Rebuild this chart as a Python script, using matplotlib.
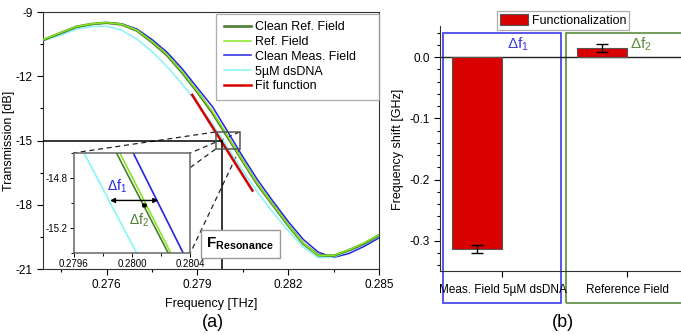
import numpy as np
import matplotlib.pyplot as plt
from matplotlib.patches import Rectangle, Patch
from matplotlib.ticker import MultipleLocator

plt.rcParams['font.family'] = ['Liberation Sans', 'DejaVu Sans']
plt.rcParams['mathtext.fontset'] = 'custom'
plt.rcParams['mathtext.rm'] = 'Liberation Sans'
plt.rcParams['mathtext.it'] = 'Liberation Sans:italic'
plt.rcParams['mathtext.bf'] = 'Liberation Sans:bold'
plt.rcParams['axes.unicode_minus'] = False

# transmission spectra [THz] / [dB]
freq = [0.2739, 0.2745, 0.2750, 0.2755, 0.2760, 0.2765, 0.2770, 0.2775,
        0.2780, 0.2785, 0.2790, 0.2795, 0.2800, 0.2805, 0.2810, 0.2815,
        0.2820, 0.2825, 0.2830, 0.2835, 0.2840, 0.2845, 0.2850]
clean_ref = [-10.31, -9.97, -9.69, -9.56, -9.50, -9.58, -9.86, -10.40,
             -11.02, -11.83, -12.73, -13.71, -14.84, -15.97, -17.08, -18.02,
             -18.96, -19.82, -20.36, -20.38, -20.13, -19.82, -19.42]
ref_field = [-10.29, -9.95, -9.68, -9.55, -9.49, -9.57, -9.84, -10.37,
             -10.98, -11.79, -12.69, -13.65, -14.79, -15.94, -17.04, -17.99,
             -18.93, -19.80, -20.36, -20.37, -20.11, -19.79, -19.40]
clean_meas = [-10.33, -10.00, -9.71, -9.57, -9.50, -9.55, -9.79, -10.28,
              -10.88, -11.65, -12.54, -13.42, -14.58, -15.75, -16.86, -17.84,
              -18.78, -19.62, -20.22, -20.46, -20.28, -19.95, -19.55]
dsdna = [-10.33, -10.07, -9.80, -9.68, -9.66, -9.85, -10.26, -10.84,
         -11.55, -12.36, -13.27, -14.22, -15.33, -16.42, -17.44, -18.36,
         -19.20, -19.98, -20.48, -20.44, -20.17, -19.84, -19.45]
fit_freq = [0.27883, 0.28082]
fit_val = [-12.87, -17.34]

f_res = 0.27981
t_res = -15.0
zoom_x = (0.2796, 0.2804)
zoom_y = (-15.4, -14.6)
df1_span = (0.27985, 0.28018)
df2_span = (0.28006, 0.28011)

# frequency shift after functionalization [GHz]
fields = ['Meas. Field 5µM dsDNA', 'Reference Field']
shift = [-0.314, 0.0155]
shift_err = [0.0065, 0.0065]

c_dkgreen = '#4b7d32'
c_ltgreen = '#86e620'
c_blue = '#2323e0'
c_cyan = '#85f5f5'
c_red = '#d40000'

fig = plt.figure(figsize=(6.81, 3.35), dpi=100)

# ---- (a) transmission
ax = fig.add_axes([0.0631, 0.197, 0.4934, 0.767])
ax.plot(freq, clean_ref, color=c_dkgreen, lw=1.9, zorder=3, label='Clean Ref. Field')
ax.plot(freq, ref_field, color=c_ltgreen, lw=1.1, zorder=4, label='Ref. Field')
ax.plot(freq, clean_meas, color=c_blue, lw=1.1, zorder=2, label='Clean Meas. Field')
ax.plot(freq, dsdna, color=c_cyan, lw=1.1, zorder=2, label='5µM dsDNA')
ax.plot(fit_freq, fit_val, color=c_red, lw=1.8, zorder=5, label='Fit function')

ax.set_xlim(0.2739, 0.285)
ax.set_ylim(-21, -9)
ax.set_xticks([0.276, 0.279, 0.282, 0.285])
ax.set_yticks([-9, -12, -15, -18, -21])
ax.xaxis.set_minor_locator(MultipleLocator(0.0015))
ax.yaxis.set_minor_locator(MultipleLocator(1.5))
ax.tick_params(which='both', direction='out', labelsize=8.5, width=0.8)
ax.tick_params(which='major', length=4)
ax.tick_params(which='minor', length=2.5)
for s in ax.spines.values():
    s.set_color('#333333')
ax.set_xlabel('Frequency [THz]', fontsize=9, labelpad=5)
ax.set_ylabel('Transmission [dB]', fontsize=9)
ax.yaxis.set_label_coords(-0.082, 0.5)

# resonance marker
ax.plot([0.2739, f_res], [t_res, t_res], color='k', lw=1.1, zorder=6)
ax.plot([f_res, f_res], [t_res, -21], color='k', lw=1.1, zorder=6)
ax.text(0.28042, -19.81, r'$\mathbf{F}_{\mathbf{Resonance}}$', fontsize=11,
        ha='center', va='center', zorder=7,
        bbox=dict(boxstyle='square,pad=0.38', fc='white', ec='#999999', lw=1))

# zoom window and inset
ax.add_patch(Rectangle((zoom_x[0], zoom_y[0]), zoom_x[1] - zoom_x[0],
                       zoom_y[1] - zoom_y[0], fill=False, ec='#555555',
                       lw=1.1, zorder=6))
ins = [0.27491, -20.25, 0.00386, 4.67]
ix0, iy0 = ins[0], ins[1]
ix1, iy1 = ins[0] + ins[2], ins[1] + ins[3]
corners = [((zoom_x[0], zoom_y[1]), (ix0, iy1)),
           ((zoom_x[1], zoom_y[1]), (ix1, iy1)),
           ((zoom_x[0], zoom_y[0]), (ix0, iy0)),
           ((zoom_x[1], zoom_y[0]), (ix1, iy0))]
for (x0, y0), (x1, y1) in corners:
    ax.plot([x0, x1], [y0, y1], ls=(0, (4, 3)), color='#222222', lw=0.9, zorder=1.5)

axins = ax.inset_axes(ins, transform=ax.transData)
axins.plot(freq, dsdna, color=c_cyan, lw=1.2)
axins.plot(freq, clean_ref, color=c_dkgreen, lw=1.2)
axins.plot(freq, ref_field, color=c_ltgreen, lw=1.2)
axins.plot(freq, clean_meas, color=c_blue, lw=1.2)
axins.set_xlim(*zoom_x)
axins.set_ylim(*zoom_y)
axins.set_xticks([0.2796, 0.2800, 0.2804])
axins.set_xticklabels(['0.2796', '0.2800', '0.2804'])
axins.set_yticks([-14.8, -15.2])
axins.xaxis.set_minor_locator(MultipleLocator(0.0002))
axins.yaxis.set_minor_locator(MultipleLocator(0.2))
axins.tick_params(which='both', direction='out', labelsize=7, width=0.7, pad=1.5)
axins.tick_params(which='major', length=3)
axins.tick_params(which='minor', length=2)
for s in axins.spines.values():
    s.set_color('#666666')
    s.set_linewidth(1.1)

axins.annotate('', xy=(df1_span[0], -14.98), xytext=(df1_span[1], -14.98),
               arrowprops=dict(arrowstyle='<|-|>', color='k', lw=1,
                               mutation_scale=7, shrinkA=0, shrinkB=0))
axins.annotate('', xy=(df2_span[0], -15.02), xytext=(df2_span[1], -15.02),
               arrowprops=dict(arrowstyle='<|-|>', color='k', lw=1.6,
                               mutation_scale=4, shrinkA=0, shrinkB=0))
axins.text(0.27990, -14.87, 'Δf$_1$', color=c_blue, fontsize=10,
           ha='center', va='center')
axins.text(0.28005, -15.14, 'Δf$_2$', color=c_dkgreen, fontsize=10,
           ha='center', va='center')

leg = ax.legend(loc='upper left', bbox_to_anchor=(0.515, 0.0, 0.485, 0.993),
                mode='expand', fontsize=9, frameon=True, fancybox=False,
                edgecolor='#999999', borderaxespad=0, handlelength=2.2,
                handletextpad=0.3, labelspacing=0.22, borderpad=0.6)
leg.get_frame().set_linewidth(0.9)
leg.set_zorder(10)

# ---- (b) frequency shift
ax2 = fig.add_axes([0.6461, 0.1896, 0.3671, 0.7313])
ax2.bar([1, 2], shift, width=-0.4, align='edge', color='#d90000',
        edgecolor='#555555', lw=0.8, yerr=shift_err, capsize=4,
        error_kw=dict(lw=1, capthick=1, ecolor='k'), zorder=3)
ax2.axhline(0, color='#222222', lw=1, zorder=2)
ax2.set_xlim(0.5, 2.5)
ax2.set_ylim(-0.35, 0.05)
ax2.set_xticks([1, 2])
ax2.set_xticklabels(fields, fontsize=7.5)
ax2.set_yticks([-0.3, -0.2, -0.1, 0.0])
ax2.yaxis.set_minor_locator(MultipleLocator(0.02))
ax2.tick_params(which='both', direction='out', labelsize=8.5, width=0.8)
ax2.tick_params(which='major', length=4)
ax2.tick_params(which='minor', length=2.5)
ax2.tick_params(axis='x', pad=5)
ax2.spines['top'].set_visible(False)
ax2.spines['right'].set_visible(False)
for s in ('left', 'bottom'):
    ax2.spines[s].set_color('#333333')
ax2.set_ylabel('Frequency shift [GHz]', fontsize=9)

ax2.add_patch(Rectangle((0.524, -0.4015), 0.944, 0.4403, fill=False,
                        ec='#3a3ae8', lw=1.2, clip_on=False))
ax2.add_patch(Rectangle((1.508, -0.4015), 1.2, 0.4403, fill=False,
                        ec='#5a8c3c', lw=1.2, clip_on=False))
ax2.text(1.124, 0.021, 'Δf$_1$', color='#3a3ae8', fontsize=11,
         ha='center', va='center')
ax2.text(2.105, 0.021, 'Δf$_2$', color='#5a8c3c', fontsize=11,
         ha='center', va='center')

leg2 = fig.legend(handles=[Patch(fc='#d90000', ec='#555555', lw=0.8,
                                 label='Functionalization')],
                  loc='center', bbox_to_anchor=(0.827, 0.940), fontsize=9,
                  fancybox=False, edgecolor='#999999', handlelength=2.2,
                  handleheight=1.0, handletextpad=0.3, borderpad=0.25)
leg2.get_frame().set_linewidth(0.9)

fig.text(0.3128, 0.0388, '(a)', fontsize=13, ha='center', va='center')
fig.text(0.8267, 0.0388, '(b)', fontsize=13, ha='center', va='center')

fig.savefig('out.png', dpi=100)
